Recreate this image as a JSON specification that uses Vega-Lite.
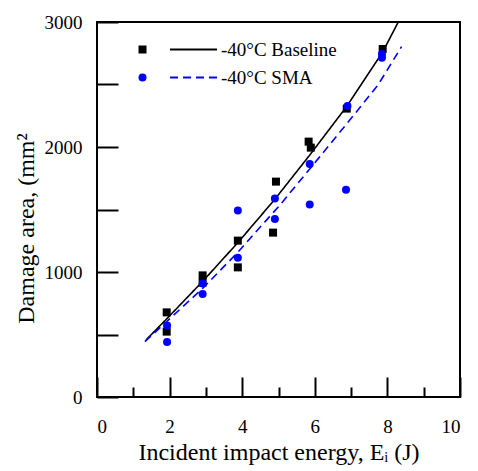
{
  "$schema": "https://vega.github.io/schema/vega-lite/v6.json",
  "width": 363,
  "height": 375,
  "autosize": {"type": "none"},
  "padding": {"left": 97, "top": 22, "right": 18, "bottom": 74},
  "background": "white",
  "config": {
    "font": "Liberation Serif, Times New Roman, DejaVu Serif, serif",
    "view": {"stroke": "black", "strokeWidth": 2},
    "axis": {
      "domain": false,
      "grid": false,
      "tickColor": "black",
      "tickWidth": 2,
      "labelColor": "black",
      "titleColor": "black",
      "labelFont": "Liberation Serif, Times New Roman, DejaVu Serif, serif",
      "titleFont": "Liberation Serif, Times New Roman, DejaVu Serif, serif",
      "labelFontSize": 19,
      "titleFontWeight": "normal"
    }
  },
  "datasets": {
    "fits": [
      {"x": 1.35, "y": 456, "fit": "-40°C Baseline"},
      {"x": 1.92, "y": 625, "fit": "-40°C Baseline"},
      {"x": 2.91, "y": 925, "fit": "-40°C Baseline"},
      {"x": 3.88, "y": 1235, "fit": "-40°C Baseline"},
      {"x": 4.88, "y": 1575, "fit": "-40°C Baseline"},
      {"x": 5.86, "y": 1935, "fit": "-40°C Baseline"},
      {"x": 6.88, "y": 2325, "fit": "-40°C Baseline"},
      {"x": 7.87, "y": 2760, "fit": "-40°C Baseline"},
      {"x": 8.3, "y": 3000, "fit": "-40°C Baseline"},
      {"x": 1.32, "y": 443, "fit": "-40°C SMA"},
      {"x": 2.0, "y": 625, "fit": "-40°C SMA"},
      {"x": 2.91, "y": 869, "fit": "-40°C SMA"},
      {"x": 3.85, "y": 1149, "fit": "-40°C SMA"},
      {"x": 5.04, "y": 1536, "fit": "-40°C SMA"},
      {"x": 6.14, "y": 1923, "fit": "-40°C SMA"},
      {"x": 7.06, "y": 2250, "fit": "-40°C SMA"},
      {"x": 7.75, "y": 2500, "fit": "-40°C SMA"},
      {"x": 8.39, "y": 2803, "fit": "-40°C SMA"}
    ],
    "points": [
      {"x": 1.92, "y": 677, "series": "Baseline"},
      {"x": 1.92, "y": 523, "series": "Baseline"},
      {"x": 2.91, "y": 973, "series": "Baseline"},
      {"x": 2.91, "y": 915, "series": "Baseline"},
      {"x": 3.88, "y": 1251, "series": "Baseline"},
      {"x": 3.88, "y": 1037, "series": "Baseline"},
      {"x": 4.93, "y": 1723, "series": "Baseline"},
      {"x": 4.85, "y": 1315, "series": "Baseline"},
      {"x": 5.83, "y": 2043, "series": "Baseline"},
      {"x": 5.89, "y": 1995, "series": "Baseline"},
      {"x": 6.88, "y": 2307, "series": "Baseline"},
      {"x": 7.87, "y": 2784, "series": "Baseline"},
      {"x": 1.93, "y": 573, "series": "SMA"},
      {"x": 1.93, "y": 440, "series": "SMA"},
      {"x": 2.91, "y": 909, "series": "SMA"},
      {"x": 2.91, "y": 824, "series": "SMA"},
      {"x": 3.88, "y": 1493, "series": "SMA"},
      {"x": 3.88, "y": 1115, "series": "SMA"},
      {"x": 4.9, "y": 1589, "series": "SMA"},
      {"x": 4.9, "y": 1424, "series": "SMA"},
      {"x": 5.86, "y": 1864, "series": "SMA"},
      {"x": 5.86, "y": 1541, "series": "SMA"},
      {"x": 6.86, "y": 1659, "series": "SMA"},
      {"x": 6.9, "y": 2328, "series": "SMA"},
      {"x": 7.85, "y": 2745, "series": "SMA"},
      {"x": 7.85, "y": 2715, "series": "SMA"}
    ]
  },
  "encoding": {
    "x": {
      "field": "x", "type": "quantitative",
      "scale": {"domain": [0, 10], "nice": false},
      "axis": {
        "values": [0, 1, 2, 3, 4, 5, 6, 7, 8, 9, 10],
        "labelExpr": "datum.value % 2 === 0 ? datum.label : ''",
        "tickSize": {"condition": {"test": "datum.value % 2 === 0", "value": -20}, "value": -10},
        "labelPadding": 40,
        "title": "Incident impact energy, Eᵢ (J)",
        "titleFontSize": 24,
        "titleBaseline": "alphabetic",
        "titleY": 62
      }
    },
    "y": {
      "field": "y", "type": "quantitative",
      "scale": {"domain": [0, 3000], "nice": false},
      "axis": {
        "values": [0, 500, 1000, 1500, 2000, 2500, 3000],
        "labelExpr": "datum.value % 1000 === 0 ? datum.label : ''",
        "format": "d",
        "tickSize": -21,
        "labelPadding": 36,
        "title": "Damage area, (mm²",
        "titleFontSize": 24,
        "titleBaseline": "alphabetic",
        "titleX": -64,
        "titleY": 206
      }
    }
  },
  "layer": [
    {
      "data": {"name": "fits"},
      "mark": {"type": "line", "strokeWidth": 1.6, "clip": true},
      "encoding": {
        "stroke": {
          "field": "fit", "type": "nominal",
          "scale": {"domain": ["-40°C Baseline", "-40°C SMA"], "range": ["black", "#0000ff"]},
          "legend": {
            "orient": "none", "legendX": 87, "legendY": 18, "title": null,
            "symbolType": "M-3,0H3", "symbolSize": 245, "symbolStrokeWidth": 2,
            "symbolFillColor": "transparent",
            "labelFont": "Liberation Serif, Times New Roman, DejaVu Serif, serif", "labelFontSize": 19, "labelColor": "black",
            "rowPadding": 8, "labelOffset": 18
          }
        },
        "strokeDash": {
          "field": "fit", "type": "nominal",
          "scale": {"domain": ["-40°C Baseline", "-40°C SMA"], "range": [[1, 0], [8, 5]]}
        }
      }
    },
    {
      "data": {"name": "points"},
      "mark": {"type": "point", "filled": true, "size": 64, "opacity": 1},
      "encoding": {
        "color": {
          "field": "series", "type": "nominal",
          "scale": {"domain": ["Baseline", "SMA"], "range": ["black", "#0000ff"]},
          "legend": {
            "orient": "none", "legendX": 36, "legendY": 18, "title": null,
            "symbolSize": 64, "symbolOpacity": 1,
            "labelFont": "Liberation Serif, Times New Roman, DejaVu Serif, serif", "labelFontSize": 19, "labelOpacity": 0,
            "rowPadding": 8
          }
        },
        "shape": {
          "field": "series", "type": "nominal",
          "scale": {"domain": ["Baseline", "SMA"], "range": ["square", "circle"]}
        }
      }
    }
  ]
}
